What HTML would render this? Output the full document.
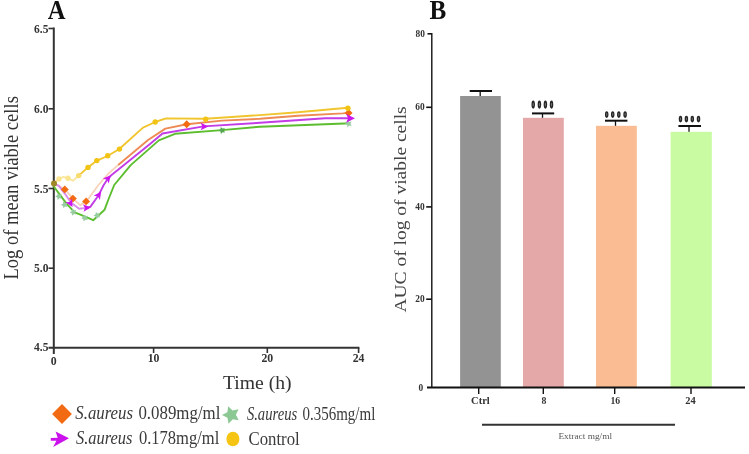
<!DOCTYPE html>
<html>
<head>
<meta charset="utf-8">
<style>
html,body{margin:0;padding:0;background:#fff;}
body{width:749px;height:454px;overflow:hidden;position:relative;}
svg{position:absolute;left:0;top:0;filter:blur(0.3px);}
text{font-family:"Liberation Serif",serif;}
</style>
</head>
<body>
<svg width="749" height="454" viewBox="0 0 749 454">
<defs>
  <polygon id="star" points="-3.00,-8.70 1.37,-4.49 7.35,-5.54 4.70,-0.08 7.54,5.28 1.53,4.44 -2.69,8.80 -3.75,2.83 -9.20,0.16 -3.85,-2.70"/>
  <polygon id="arr" points="9,-0.7 -4.4,-7.6 -2.3,-1.2 -9.2,-1 -9.2,1.7 -3.6,1.7 -6.8,8"/>
  <polygon id="arrs" points="4.5,0 -3.2,-3.8 -1.4,0 -3.2,3.8"/>
</defs>

<!-- ============ PANEL A ============ -->
<text transform="translate(47.7,18.6) scale(0.93,1)" font-size="26.5" font-weight="bold" fill="#111">A</text>

<!-- y-axis -->
<g stroke="#333" stroke-width="2" fill="none">
  <line x1="53.8" y1="27.5" x2="53.8" y2="354"/>
  <line x1="48.5" y1="28.5" x2="53.8" y2="28.5" stroke-width="1.6"/>
  <line x1="48.5" y1="108.8" x2="53.8" y2="108.8" stroke-width="1.6"/>
  <line x1="48.5" y1="188.5" x2="53.8" y2="188.5" stroke-width="1.6"/>
  <line x1="48.5" y1="268.2" x2="53.8" y2="268.2" stroke-width="1.6"/>
  <line x1="48.5" y1="347.7" x2="359.4" y2="347.7"/>
  <line x1="153.6" y1="347.7" x2="153.6" y2="353" stroke-width="1.6"/>
  <line x1="267.3" y1="347.7" x2="267.3" y2="353" stroke-width="1.6"/>
  <line x1="358.6" y1="347.7" x2="358.6" y2="353" stroke-width="1.6"/>
</g>
<g font-size="11.5" font-weight="bold" fill="#333" text-anchor="end">
  <text x="48.4" y="32.6">6.5</text>
  <text x="48.4" y="112.9">6.0</text>
  <text x="48.4" y="192.6">5.5</text>
  <text x="48.4" y="272.3">5.0</text>
  <text x="48.4" y="350.8">4.5</text>
</g>
<g font-size="11.8" font-weight="bold" fill="#333" text-anchor="middle">
  <text x="53.8" y="364.6">0</text>
  <text x="153.6" y="362.4">10</text>
  <text x="267.3" y="362.4">20</text>
  <text x="358.6" y="362.4">24</text>
</g>
<text x="223" y="389" font-size="18.6" fill="#333" textLength="68.6" lengthAdjust="spacingAndGlyphs">Time (h)</text>
<text transform="translate(18,279.6) rotate(-90)" font-size="20" fill="#333" textLength="183.5" lengthAdjust="spacingAndGlyphs">Log of mean viable cells</text>

<!-- curves -->
<g fill="none" stroke-width="1.9" stroke-linejoin="round" stroke-linecap="round">
  <!-- green 0.356 -->
  <polyline stroke="#5CBE2F" points="53.8,186.5 66.7,203.9 74.7,212.3 85.2,216.7 93.2,220.2 104.6,209.7 108.2,200 114.2,185 130.7,165.1 158.8,140.4 175,133.8 222,130.1 260,126.7 344.5,123.5 348.5,123.3"/>
  <!-- orange 0.089 -->
  <polyline stroke="#F8D3BC" points="53.8,183.3 65,189.4 72.9,198.6 80.4,205.3 88.8,198.2 98.4,185 108,174 118.8,164.4"/>
  <polyline stroke="#EE8B55" points="118.8,164.4 148.1,140 165.4,128.6 186.7,124.2 222,120.6 260,118.8 298,115.8 342.9,113.4 348,112.9"/>
  <!-- magenta 0.178 -->
  <polyline stroke="#D98CEC" points="53.8,183.3 58.8,185.9 65,193.8 70.7,202.2 79.1,208.8 86.6,207.9"/>
  <polyline stroke="#C23DE6" points="86.6,207.9 90.5,206.6 98.9,194.7 103.7,185 108.2,178.3 112.2,174.4 150,144 162.5,133.5 203.6,126.4 260,122.8 325.3,118.2 350,118.2"/>
  <!-- yellow control -->
  <polyline stroke="#FBE7A0" points="53.8,183.3 59,179 63.4,176.8 68,178.3 73,180.7 78.7,175.6"/>
  <polyline stroke="#F1C52E" points="78.7,175.6 88,167.4 96.8,160.6 107.6,156 119.3,149 143,127.6 155.2,122 166,118.4 205.5,118.8 250,115.8 298,112.3 347.7,107.8"/>
</g>
<!-- markers -->
<g fill="#98CDA2">
  <use href="#star" transform="translate(58.8,196.4) scale(0.4)"/>
  <use href="#star" transform="translate(64.5,204.8) scale(0.4)"/>
  <use href="#star" transform="translate(73.3,212.3) scale(0.4)"/>
  <use href="#star" transform="translate(84.8,218) scale(0.4)"/>
  <use href="#star" transform="translate(97.1,215.4) scale(0.4)"/>
  <use href="#star" transform="translate(222,130.4) scale(0.4)" fill="#55A850"/>
  <use href="#star" transform="translate(348.6,123.8) scale(0.4)"/>
</g>
<g fill="#F26B12">
  <rect x="-2.8" y="-2.8" width="5.6" height="5.6" transform="translate(64.8,189.4) rotate(45)"/>
  <rect x="-2.8" y="-2.8" width="5.6" height="5.6" transform="translate(72.9,198.6) rotate(45)"/>
  <rect x="-2.8" y="-2.8" width="5.6" height="5.6" transform="translate(86.1,201.4) rotate(45)"/>
  <rect x="-2.8" y="-2.8" width="5.6" height="5.6" transform="translate(186.7,124.2) rotate(45)"/>
  <rect x="-2.8" y="-2.8" width="5.6" height="5.6" transform="translate(348.6,112.9) rotate(45)"/>
</g>
<g fill="#CC14EE">
  <use href="#arrs" transform="translate(70.3,203.2) rotate(60)"/>
  <use href="#arrs" transform="translate(86.4,207.8) rotate(-5)"/>
  <use href="#arrs" transform="translate(98.6,195.2) rotate(-55)"/>
  <use href="#arrs" transform="translate(107.9,178.6) rotate(-50)"/>
  <use href="#arrs" transform="translate(203.8,126.5) rotate(0)"/>
  <use href="#arrs" transform="translate(349.8,118.3) rotate(0) scale(1.15)"/>
</g>
<g fill="#F3C313">
  <circle cx="59" cy="179" r="2.7" fill="#FBE48E"/>
  <circle cx="68" cy="178.3" r="2.7" fill="#FBE48E"/>
  <circle cx="78.7" cy="175.6" r="2.7" fill="#F9DC6E"/>
  <circle cx="88" cy="167.4" r="2.7"/>
  <circle cx="96.8" cy="160.6" r="2.7"/>
  <circle cx="107.7" cy="155.8" r="2.7"/>
  <circle cx="119.5" cy="149.1" r="2.7"/>
  <circle cx="155.2" cy="122" r="2.7"/>
  <circle cx="205.7" cy="119.2" r="2.7"/>
  <circle cx="347.9" cy="108.3" r="2.7"/>
</g>
<circle cx="54" cy="183.5" r="3" fill="#A08828"/>

<!-- legend -->
<rect x="-7" y="-7" width="14" height="14" fill="#F26B12" transform="translate(62,414) rotate(45)"/>
<use href="#arr" fill="#CB12EC" transform="translate(60,439)"/>
<use href="#star" fill="#8CC894" transform="translate(231.2,414.9)"/>
<ellipse cx="232.9" cy="439" rx="6.5" ry="7.3" fill="#F6C514"/>
<g font-size="18" fill="#3a3a3a">
  <text x="75.3" y="419.3"><tspan font-style="italic" textLength="57.7" lengthAdjust="spacingAndGlyphs">S.aureus</tspan></text>
  <text x="138.4" y="419.3" textLength="82" lengthAdjust="spacingAndGlyphs">0.089mg/ml</text>
  <text x="75.9" y="444.2"><tspan font-style="italic" textLength="56.6" lengthAdjust="spacingAndGlyphs">S.aureus</tspan></text>
  <text x="138.9" y="444.2" textLength="80.4" lengthAdjust="spacingAndGlyphs">0.178mg/ml</text>
  <text x="246.9" y="419.6"><tspan font-style="italic" textLength="50.3" lengthAdjust="spacingAndGlyphs">S.aureus</tspan></text>
  <text x="302.5" y="419.6" textLength="72.8" lengthAdjust="spacingAndGlyphs">0.356mg/ml</text>
  <text x="248.5" y="444.8" textLength="51.2" lengthAdjust="spacingAndGlyphs">Control</text>
</g>
<!-- ============ PANEL B ============ -->
<text transform="translate(429.5,18.5) scale(0.95,1)" font-size="26.5" font-weight="bold" fill="#111">B</text>
<!-- bars -->
<rect x="460.1" y="96" width="40.7" height="291.6" fill="#939393"/>
<rect x="523" y="117.8" width="40.8" height="269.8" fill="#E4A8A8"/>
<rect x="596" y="125.8" width="40.8" height="261.8" fill="#FABC93"/>
<rect x="670.6" y="131.8" width="41.2" height="255.8" fill="#C8FBA2"/>
<!-- error bars -->
<g stroke="#111" fill="none">
  <line x1="469.7" y1="91" x2="492" y2="91" stroke-width="2"/>
  <line x1="480.2" y1="91" x2="480.2" y2="96" stroke-width="1.3"/>
  <line x1="532" y1="113.4" x2="554.2" y2="113.4" stroke-width="2"/>
  <line x1="542.5" y1="113.4" x2="542.5" y2="117.8" stroke-width="1.3"/>
  <line x1="605" y1="120.7" x2="627.4" y2="120.7" stroke-width="2"/>
  <line x1="615.5" y1="120.7" x2="615.5" y2="125.8" stroke-width="1.3"/>
  <line x1="678.4" y1="126" x2="701" y2="126" stroke-width="2"/>
  <line x1="689" y1="126" x2="689" y2="131.8" stroke-width="1.3"/>
</g>
<!-- significance symbols -->
<g>
  <ellipse cx="533.2" cy="104.6" rx="1.75" ry="4.1" fill="#262626"/>
  <ellipse cx="533.2" cy="104.6" rx="0.55" ry="1.84" fill="#707070"/>
  <ellipse cx="539.4" cy="104.6" rx="1.75" ry="4.1" fill="#262626"/>
  <ellipse cx="539.4" cy="104.6" rx="0.55" ry="1.84" fill="#707070"/>
  <ellipse cx="545.4" cy="104.6" rx="1.75" ry="4.1" fill="#262626"/>
  <ellipse cx="545.4" cy="104.6" rx="0.55" ry="1.84" fill="#707070"/>
  <ellipse cx="551.5" cy="104.6" rx="1.75" ry="4.1" fill="#262626"/>
  <ellipse cx="551.5" cy="104.6" rx="0.55" ry="1.84" fill="#707070"/>
  <ellipse cx="606.7" cy="114.6" rx="1.75" ry="3.3" fill="#262626"/>
  <ellipse cx="606.7" cy="114.6" rx="0.55" ry="1.48" fill="#707070"/>
  <ellipse cx="612.7" cy="114.6" rx="1.75" ry="3.3" fill="#262626"/>
  <ellipse cx="612.7" cy="114.6" rx="0.55" ry="1.48" fill="#707070"/>
  <ellipse cx="618.8" cy="114.6" rx="1.75" ry="3.3" fill="#262626"/>
  <ellipse cx="618.8" cy="114.6" rx="0.55" ry="1.48" fill="#707070"/>
  <ellipse cx="625.1" cy="114.6" rx="1.75" ry="3.3" fill="#262626"/>
  <ellipse cx="625.1" cy="114.6" rx="0.55" ry="1.48" fill="#707070"/>
  <ellipse cx="680.5" cy="119.1" rx="1.75" ry="3.3" fill="#262626"/>
  <ellipse cx="680.5" cy="119.1" rx="0.55" ry="1.48" fill="#707070"/>
  <ellipse cx="686.4" cy="119.1" rx="1.75" ry="3.3" fill="#262626"/>
  <ellipse cx="686.4" cy="119.1" rx="0.55" ry="1.48" fill="#707070"/>
  <ellipse cx="692.3" cy="119.1" rx="1.75" ry="3.3" fill="#262626"/>
  <ellipse cx="692.3" cy="119.1" rx="0.55" ry="1.48" fill="#707070"/>
  <ellipse cx="698.5" cy="119.1" rx="1.75" ry="3.3" fill="#262626"/>
  <ellipse cx="698.5" cy="119.1" rx="0.55" ry="1.48" fill="#707070"/>
</g>
<!-- axes -->
<g stroke="#111" fill="none">
  <line x1="431.8" y1="33" x2="431.8" y2="388" stroke-width="1.4"/>
  <line x1="427" y1="387.6" x2="745" y2="387.6" stroke-width="2"/>
  <line x1="427.5" y1="33.8" x2="431.8" y2="33.8" stroke-width="1.6"/>
  <line x1="426.2" y1="107.3" x2="431.8" y2="107.3" stroke-width="1.6"/>
  <line x1="426.2" y1="206.9" x2="431.8" y2="206.9" stroke-width="1.6"/>
  <line x1="426.2" y1="299.2" x2="431.8" y2="299.2" stroke-width="1.6"/>
  <line x1="478.7" y1="387.6" x2="478.7" y2="394" stroke-width="1.4"/>
  <line x1="543.3" y1="387.6" x2="543.3" y2="394" stroke-width="1.4"/>
  <line x1="614.7" y1="387.6" x2="614.7" y2="394" stroke-width="1.4"/>
  <line x1="691" y1="387.6" x2="691" y2="394" stroke-width="1.4"/>
</g>
<g font-size="9.4" font-weight="bold" fill="#333" text-anchor="end">
  <text x="424.9" y="36.6">80</text>
  <text x="424.7" y="110">60</text>
  <text x="424.7" y="209.7">40</text>
  <text x="424.7" y="302">20</text>
  <text x="423.2" y="390.8">0</text>
</g>
<g font-size="9.6" font-weight="bold" fill="#333">
  <text x="471.1" y="403.5" textLength="18.7" lengthAdjust="spacingAndGlyphs">Ctrl</text>
  <text x="541.5" y="403.5" textLength="4.9" lengthAdjust="spacingAndGlyphs">8</text>
  <text x="610.4" y="403.5" textLength="9.7" lengthAdjust="spacingAndGlyphs">16</text>
  <text x="685.3" y="403.5" textLength="10.4" lengthAdjust="spacingAndGlyphs">24</text>
</g>
<line x1="482" y1="424.8" x2="675" y2="424.8" stroke="#333" stroke-width="2"/>
<text x="558.4" y="438.7" font-size="9" fill="#555" textLength="53.6" lengthAdjust="spacingAndGlyphs">Extract mg/ml</text>
<text transform="translate(405.9,312.6) rotate(-90)" font-size="15.8" fill="#444" textLength="206.3" lengthAdjust="spacingAndGlyphs">AUC of log of viable cells</text>
</svg>
</body>
</html>
